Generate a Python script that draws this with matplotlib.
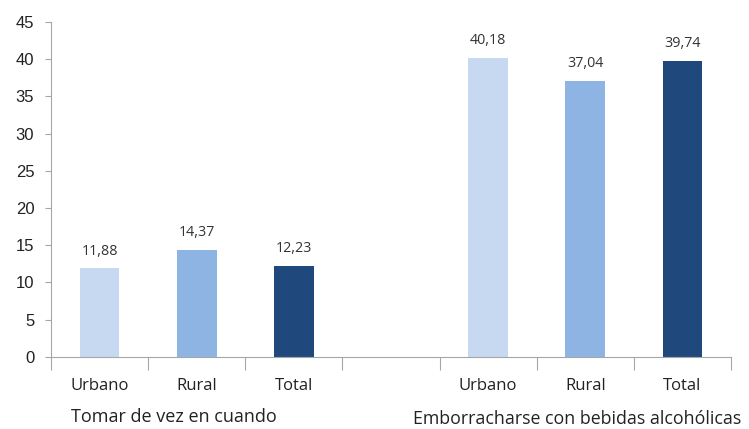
import matplotlib
matplotlib.use("Agg")
import matplotlib.pyplot as plt
import matplotlib.transforms as mtransforms

categories = ["Urbano", "Rural", "Total"]
groups = ["Tomar de vez en cuando", "Emborracharse con bebidas alcohólicas"]
tomar = [11.88, 14.37, 12.23]
emborracharse = [40.18, 37.04, 39.74]
colors = ["#C6D9F1", "#8EB4E3", "#1F497D"]

plt.rcParams["font.family"] = ["Open Sans", "DejaVu Sans"]

fig = plt.figure(figsize=(7.49, 4.29), dpi=100)
ax = fig.add_axes([0.068, 0.168, 0.908, 0.781])

pos1 = [0, 1, 2]
pos2 = [4, 5, 6]
ax.bar(pos1, tomar, width=0.41, color=colors)
ax.bar(pos2, emborracharse, width=0.41, color=colors)

for x, v in zip(pos1 + pos2, tomar + emborracharse):
    ax.text(x, v + 1.3, f"{v:.2f}".replace(".", ","), ha="center", va="bottom",
            fontsize=10.3, color="#333333")

ax.set_xlim(-0.5, 6.5)
ax.set_ylim(0, 45)
ax.set_yticks(range(0, 46, 5))
ax.tick_params(axis="y", labelsize=12, length=4, color="#A6A6A6", labelcolor="#222222",
               labelfontfamily="Liberation Sans", pad=8)

ax.set_xticks([i - 0.5 for i in range(8)])
ax.set_xticklabels([])
ax.tick_params(axis="x", which="major", length=9, color="#A6A6A6")
ax.set_xticks(pos1 + pos2, minor=True)
ax.set_xticklabels(categories + categories, minor=True)
ax.tick_params(axis="x", which="minor", length=0, labelsize=12, pad=15, labelcolor="#222222")

for s in ["top", "right"]:
    ax.spines[s].set_visible(False)
for s in ["left", "bottom"]:
    ax.spines[s].set_color("#A6A6A6")

trans = mtransforms.blended_transform_factory(ax.transData, fig.transFigure)
ax.text(0.765, 1 - 417 / 429, groups[0], transform=trans, ha="center", va="center",
        fontsize=13, color="#222222")
ax.text(4.92, 1 - 419 / 429, groups[1], transform=trans, ha="center", va="center",
        fontsize=12.8, color="#222222")

fig.savefig("out.png", dpi=100)
